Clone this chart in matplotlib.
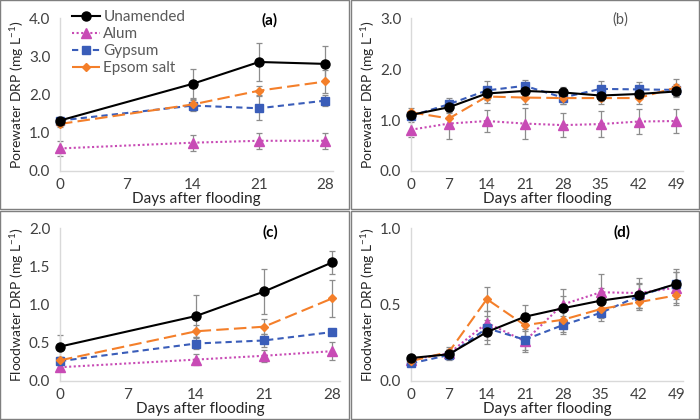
import matplotlib.pyplot as plt
from matplotlib.patches import Rectangle

plt.rcParams["font.family"] = ["Lato", "DejaVu Sans"]
plt.rcParams["mathtext.fontset"] = "custom"
plt.rcParams["mathtext.rm"] = "Lato"
plt.rcParams["mathtext.default"] = "rm"

days_short = [0, 14, 21, 28]
days_long = [0, 7, 14, 21, 28, 35, 42, 49]
series = ["Unamended", "Alum", "Gypsum", "Epsom salt"]

# (a) porewater, short experiment
a_vals = {
    "Unamended": [1.32, 2.28, 2.85, 2.80],
    "Alum": [0.59, 0.74, 0.79, 0.79],
    "Gypsum": [1.32, 1.71, 1.64, 1.84],
    "Epsom salt": [1.23, 1.74, 2.10, 2.34],
}
a_err = {
    "Unamended": [0.10, 0.38, 0.50, 0.46],
    "Alum": [0.20, 0.21, 0.21, 0.21],
    "Gypsum": [0.10, 0.14, 0.31, 0.15],
    "Epsom salt": [0.08, 0.15, 0.12, 0.30],
}

# (b) porewater, long experiment
b_vals = {
    "Unamended": [1.10, 1.25, 1.52, 1.57, 1.54, 1.48, 1.51, 1.56],
    "Alum": [0.81, 0.93, 0.98, 0.93, 0.90, 0.92, 0.97, 0.98],
    "Gypsum": [1.08, 1.31, 1.58, 1.67, 1.44, 1.61, 1.60, 1.59],
    "Epsom salt": [1.15, 1.03, 1.46, 1.44, 1.43, 1.43, 1.43, 1.64],
}
b_err = {
    "Unamended": [0.08, 0.10, 0.10, 0.10, 0.10, 0.10, 0.10, 0.10],
    "Alum": [0.15, 0.30, 0.22, 0.30, 0.24, 0.25, 0.25, 0.24],
    "Gypsum": [0.08, 0.13, 0.18, 0.12, 0.12, 0.16, 0.14, 0.12],
    "Epsom salt": [0.08, 0.10, 0.12, 0.12, 0.12, 0.12, 0.12, 0.16],
}

# (c) floodwater, short experiment
c_vals = {
    "Unamended": [0.45, 0.85, 1.17, 1.55],
    "Alum": [0.18, 0.28, 0.33, 0.39],
    "Gypsum": [0.26, 0.49, 0.53, 0.64],
    "Epsom salt": [0.27, 0.65, 0.71, 1.08],
}
c_err = {
    "Unamended": [0.15, 0.28, 0.30, 0.15],
    "Alum": [0.05, 0.07, 0.08, 0.12],
    "Gypsum": [0.05, 0.07, 0.08, 0.04],
    "Epsom salt": [0.05, 0.08, 0.10, 0.24],
}

# (d) floodwater, long experiment
d_vals = {
    "Unamended": [0.15, 0.175, 0.32, 0.42, 0.475, 0.525, 0.56, 0.635],
    "Alum": [0.14, 0.18, 0.38, 0.26, 0.50, 0.58, 0.575, 0.61],
    "Gypsum": [0.115, 0.17, 0.345, 0.27, 0.365, 0.445, 0.555, 0.635],
    "Epsom salt": [0.13, 0.19, 0.535, 0.365, 0.40, 0.47, 0.515, 0.56],
}
d_err = {
    "Unamended": [0.02, 0.03, 0.08, 0.08, 0.08, 0.08, 0.08, 0.10],
    "Alum": [0.02, 0.03, 0.08, 0.07, 0.10, 0.12, 0.10, 0.10],
    "Gypsum": [0.02, 0.03, 0.08, 0.07, 0.06, 0.05, 0.08, 0.08],
    "Epsom salt": [0.02, 0.03, 0.08, 0.08, 0.08, 0.06, 0.05, 0.06],
}

styles = {
    "Unamended": dict(color="black", ls="-", marker="o", ms=6.5),
    "Alum": dict(color="#C84BB5", ls=(0, (1, 1.2)), marker="^", ms=6.5),
    "Gypsum": dict(color="#3A5DB9", ls=(0, (3, 2)), marker="s", ms=5.5),
    "Epsom salt": dict(color="#F47F2A", ls=(0, (6, 2.5)), marker="D", ms=4.5),
}
draw_order = ["Alum", "Gypsum", "Epsom salt", "Unamended"]

W, H = 700, 420
fig = plt.figure(figsize=(7, 4.2), dpi=100)

# panel frames
for x0, y0, x1, y1 in [(0, 0, 349, 209), (351, 0, 699, 209),
                       (0, 211, 349, 419), (351, 211, 699, 419)]:
    fig.add_artist(Rectangle((x0 / W, 1 - y1 / H), (x1 - x0) / W, (y1 - y0) / H,
                             transform=fig.transFigure, fill=False,
                             edgecolor="#7F7F7F", lw=1.0))


def make_ax(left, right, top, bottom):
    return fig.add_axes([left / W, 1 - bottom / H, (right - left) / W, (bottom - top) / H])


def draw_panel(ax, days, vals, errs, ymax, ystep, ylabel, tag, tag_bold, xmax, tag_xy):
    for name in draw_order:
        ax.errorbar(days, vals[name], yerr=errs[name], fmt="none", ecolor="#8C8C8C",
                    elinewidth=0.9, capsize=2, capthick=0.9, zorder=2, clip_on=False)
    for name in draw_order:
        st = styles[name]
        ax.plot(days, vals[name], color=st["color"], ls=st["ls"], lw=1.5,
                marker=st["marker"], ms=st["ms"], label=name, zorder=3, clip_on=False)
    ax.set_xlim(0, xmax)
    ax.set_ylim(0, ymax)
    ax.set_xticks(list(range(0, int(max(days)) + 1, 7)))
    yt = [i * ystep for i in range(int(round(ymax / ystep)) + 1)]
    ax.set_yticks(yt)
    ax.set_yticklabels([f"{v:.1f}" for v in yt])
    ax.tick_params(length=0, labelsize=11, colors="#404040")
    ax.tick_params(axis="x", pad=5)
    ax.tick_params(axis="y", pad=7)
    for s in ["top", "right"]:
        ax.spines[s].set_visible(False)
    for s in ["left", "bottom"]:
        ax.spines[s].set_color("#D9D9D9")
        ax.spines[s].set_linewidth(1.0)
    bb = ax.get_position()
    ax_w = bb.width * W
    ax_h = bb.height * H
    ax.set_ylabel(ylabel, fontsize=10, color="#262626")
    ax.yaxis.set_label_coords(-34 / ax_w, 0.5)
    ax.set_xlabel("Days after flooding", fontsize=11, color="#262626")
    ax.xaxis.set_label_coords(0.5, -21 / ax_h)
    fig.text(tag_xy[0] / W, 1 - tag_xy[1] / H, tag, ha="center", va="center",
             fontsize=11 if tag_bold else 10.5,
             fontweight="bold" if tag_bold else "normal",
             color="black" if tag_bold else "#555555")


ax_a = make_ax(60, 333, 18, 171)
draw_panel(ax_a, days_short, a_vals, a_err, 4.0, 1.0, "Porewater DRP (mg L$^{-1}$)",
           "(a)", True, 28.8, (270, 20))
ax_b = make_ax(411, 683, 18, 171)
draw_panel(ax_b, days_long, b_vals, b_err, 3.0, 1.0, "Porewater DRP (mg L$^{-1}$)",
           "(b)", False, 50.2, (620, 20))
ax_c = make_ax(60, 340, 228, 381)
draw_panel(ax_c, days_short, c_vals, c_err, 2.0, 0.5, "Floodwater DRP (mg L$^{-1}$)",
           "(c)", True, 28.8, (270, 232))
ax_d = make_ax(411, 683, 228, 381)
draw_panel(ax_d, days_long, d_vals, d_err, 1.0, 0.5, "Floodwater DRP (mg L$^{-1}$)",
           "(d)", True, 50.2, (622, 232))

handles, labels = ax_a.get_legend_handles_labels()
order = [labels.index(n) for n in series]
leg = fig.legend([handles[i] for i in order], series, loc="upper left",
                 bbox_to_anchor=(72 / W, 1 - 10 / H), frameon=False, fontsize=11,
                 handlelength=1.8, handletextpad=0.25, labelspacing=0.2,
                 borderaxespad=0, borderpad=0)
for t in leg.get_texts():
    t.set_color("#595959")

fig.savefig("out.png", dpi=100)
